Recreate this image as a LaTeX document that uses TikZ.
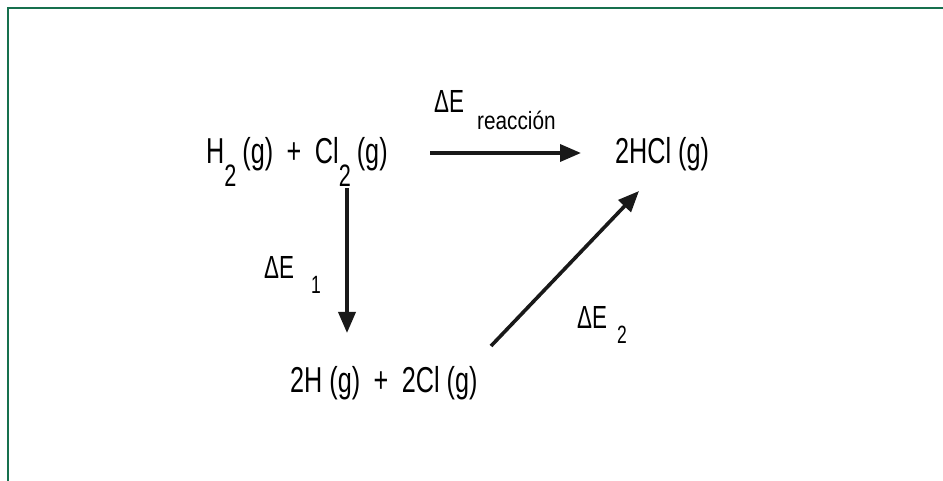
\documentclass[tikz,border=0pt]{standalone}
\usepackage{fontspec}
\setmainfont{Liberation Sans}[FakeStretch=0.7]
\newfontfamily\labelfont{Liberation Sans}[FakeStretch=0.83]
\usetikzlibrary{arrows.meta}
\definecolor{framegreen}{RGB}{22,112,78}
\newcommand{\mainsz}{\fontsize{36}{40}\selectfont}
\newcommand{\desz}{\fontsize{32}{36}\selectfont}
\newcommand{\smsz}{\fontsize{25}{28}\selectfont}
\newcommand{\lowsub}[1]{\raisebox{-23pt}{\fontsize{31}{34}\selectfont #1}}
\newcommand{\plusgap}{\hspace{13.5pt}+\hspace{13.5pt}}
\begin{document}
\begin{tikzpicture}[x=1pt,y=-1pt,
  chem/.style={inner sep=0pt, anchor=base west, font=\mainsz},
  delta/.style={inner sep=0pt, anchor=base west, font=\desz},
  idx/.style={inner sep=0pt, anchor=base west, font=\smsz},
  conn/.style={line width=3.6pt, -{Triangle[length=21pt,width=17pt]}, black!90}]
\useasboundingbox (0,0) rectangle (943,481);
\draw[framegreen, line width=2.2pt] (943,8) -- (8,8) -- (8,481);

\node[chem] (reac) at (206,164) {H\lowsub{2}\,(g)\plusgap Cl\lowsub{2}\,(g)};
\node[chem] (prod) at (615,164) {2HCl (g)};
\node[chem] (atoms) at (290,392) {2H (g)\plusgap 2Cl (g)};

\node[delta] (dr) at (434,113) {Δ{}E};
\node[idx] (drs) at (477,130) {\labelfont reacción};
\node[delta] (d1) at (264,279) {Δ{}E};
\node[idx] (d1s) at (311,294) {1};
\node[delta] (d2) at (577,328) {Δ{}E};
\node[idx] (d2s) at (617,343) {2};

\coordinate (h1) at (430,153);
\coordinate (h2) at (581,153);
\coordinate (v1) at (347,188);
\coordinate (v2) at (347,333);
\coordinate (g1) at (491,346);
\coordinate (g2) at (639,191);
\draw[conn] (h1) -- (h2);
\draw[conn] (v1) -- (v2);
\draw[conn] (g1) -- (g2);
\end{tikzpicture}
\end{document}
